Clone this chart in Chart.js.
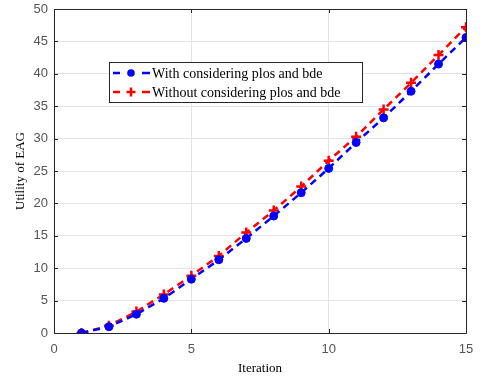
<!DOCTYPE html>
<html>
<head>
<meta charset="utf-8">
<script src="https://cdn.jsdelivr.net/npm/chart.js@4/dist/chart.umd.min.js"></script>
<style>
html,body{margin:0;padding:0;background:#fff;}
#wrap{width:480px;height:380px;}
</style>
</head>
<body>
<div id="wrap"><canvas id="c" width="480" height="380"></canvas></div>
<script>
const iterations = [1,2,3,4,5,6,7,8,9,10,11,12,13,14,15];
const withPlosBde = [0,0.97,2.9,5.35,8.3,11.3,14.6,18.05,21.65,25.4,29.4,33.2,37.3,41.5,45.6];
const withoutPlosBde = [0,1.13,3.3,5.95,8.85,11.9,15.5,18.9,22.6,26.6,30.3,34.5,38.6,42.9,47.2];
const seriesLabels = ['With considering plos and bde','Without considering plos and bde'];
const xTicks = [0,5,10,15];
const yTicks = [0,5,10,15,20,25,30,35,40,45,50];

const serif = '"Liberation Serif","Times New Roman",serif';
const sans = '"Liberation Sans",Arial,sans-serif';

const boxPlugin = {
  id:'boxPlugin',
  afterDatasetsDraw(chart){
    const {ctx, chartArea:a, scales:{x,y}} = chart;
    ctx.save();
    ctx.strokeStyle = '#262626';
    ctx.lineWidth = 1;
    ctx.beginPath();
    ctx.rect(Math.round(a.left)+0.5, Math.round(a.top)+0.5, Math.round(a.right-a.left), Math.round(a.bottom-a.top));
    ctx.stroke();
    const tl = 4;
    ctx.beginPath();
    xTicks.forEach(v=>{
      const px = Math.round(x.getPixelForValue(v))+0.5;
      ctx.moveTo(px,a.bottom); ctx.lineTo(px,a.bottom-tl);
      ctx.moveTo(px,a.top); ctx.lineTo(px,a.top+tl);
    });
    yTicks.forEach(v=>{
      const py = Math.round(y.getPixelForValue(v))+0.5;
      ctx.moveTo(a.left,py); ctx.lineTo(a.left+tl,py);
      ctx.moveTo(a.right,py); ctx.lineTo(a.right-tl,py);
    });
    ctx.stroke();
    ctx.restore();
  },
  afterDraw(chart){
    const ctx = chart.ctx;
    const lx = 109, ly = 62, lw = 253, lh = 40;
    ctx.save();
    ctx.fillStyle = '#fff';
    ctx.fillRect(lx, ly, lw, lh);
    ctx.strokeStyle = '#262626';
    ctx.lineWidth = 1;
    ctx.strokeRect(lx+0.5, ly+0.5, lw, lh);
    chart.data.datasets.forEach((ds,i)=>{
      const cy = ly + 11 + i*19;
      ctx.strokeStyle = ds.borderColor;
      ctx.lineWidth = 2.5;
      ctx.setLineDash([]);
      ctx.beginPath();
      ctx.moveTo(113,cy); ctx.lineTo(120,cy);
      ctx.moveTo(142,cy); ctx.lineTo(150,cy);
      ctx.stroke();
      const mx = 131;
      if(ds.pointStyle==='circle'){
        ctx.fillStyle = ds.pointBackgroundColor;
        ctx.beginPath(); ctx.arc(mx,cy,3.8,0,Math.PI*2); ctx.fill();
      } else {
        ctx.strokeStyle = ds.pointBorderColor;
        ctx.lineWidth = 2.5;
        ctx.beginPath();
        ctx.moveTo(mx-4.5,cy); ctx.lineTo(mx+4.5,cy);
        ctx.moveTo(mx,cy-4.5); ctx.lineTo(mx,cy+4.5);
        ctx.stroke();
      }
      ctx.fillStyle = '#000';
      ctx.font = '14px '+serif;
      ctx.textBaseline = 'middle';
      ctx.fillText(ds.label, 152, cy+1);
    });
    ctx.restore();
  }
};

new Chart(document.getElementById('c'), {
  type:'line',
  data:{
    datasets:[
      {
        label: seriesLabels[0],
        data: iterations.map((v,i)=>({x:v,y:withPlosBde[i]})),
        borderColor:'#0000ff',
        backgroundColor:'#0000ff',
        borderWidth:2.5,
        borderDash:[7,5],
        pointStyle:'circle',
        pointRadius:4,
        pointBackgroundColor:'#0000ff',
        pointBorderColor:'#0000ff',
        pointBorderWidth:1,
        tension:0,
        fill:false
      },
      {
        label: seriesLabels[1],
        data: iterations.map((v,i)=>({x:v,y:withoutPlosBde[i]})),
        borderColor:'#ff0000',
        backgroundColor:'#ff0000',
        borderWidth:2.5,
        borderDash:[7,5],
        pointStyle:'cross',
        pointRadius:5,
        pointBackgroundColor:'#ff0000',
        pointBorderColor:'#ff0000',
        pointBorderWidth:2.5,
        tension:0,
        fill:false
      }
    ]
  },
  options:{
    responsive:false,
    animation:false,
    devicePixelRatio:1,
    layout:{padding:{left:0,right:14,top:9,bottom:0}},
    plugins:{legend:{display:false},tooltip:{enabled:false}},
    scales:{
      x:{
        type:'linear', min:0, max:15,
        afterBuildTicks(s){ s.ticks = xTicks.map(v=>({value:v})); },
        afterFit(s){ s.height = 47; s.paddingRight = 0; s.paddingLeft = 0; },
        grid:{color:'#e3e3e3', lineWidth:1, drawTicks:false},
        border:{display:false},
        ticks:{color:'#555', font:{family:sans,size:13}, padding:9, maxRotation:0},
        title:{display:true, text:'Iteration', color:'#000', font:{family:serif,size:13}, padding:{top:0,bottom:4}}
      },
      y:{
        type:'linear', min:0, max:50,
        afterBuildTicks(s){ s.ticks = yTicks.map(v=>({value:v})); },
        afterFit(s){ s.width = 54; s.paddingTop = 0; s.paddingBottom = 0; },
        grid:{color:'#e3e3e3', lineWidth:1, drawTicks:false},
        border:{display:false},
        ticks:{color:'#555', font:{family:sans,size:13}, padding:6},
        title:{display:true, text:'Utility of EAG', color:'#000', font:{family:serif,size:13}, padding:{top:13,bottom:0}}
      }
    }
  },
  plugins:[boxPlugin]
});
</script>
</body>
</html>
